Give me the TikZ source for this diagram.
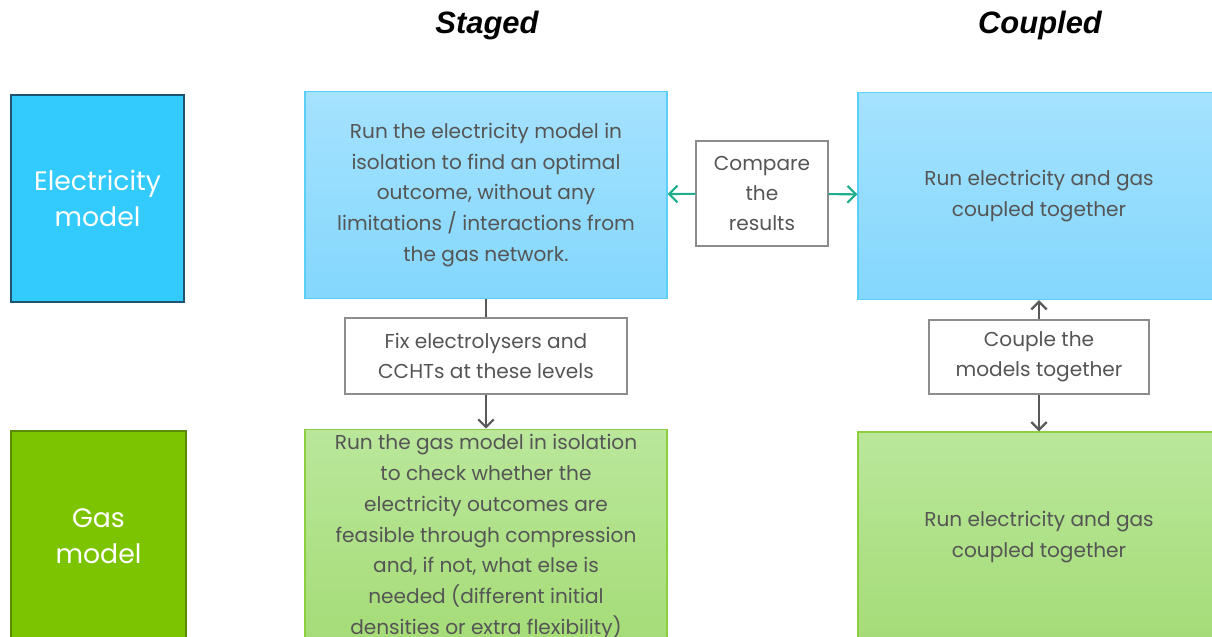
\documentclass[tikz,border=0pt]{standalone}
\usepackage{fontspec}
\setmainfont{Poppins}
\newfontfamily\headfont{Liberation Sans}
\usetikzlibrary{arrows.meta}

\definecolor{elecdark}{HTML}{33CAFD}
\definecolor{elecline}{HTML}{1F5370}
\definecolor{gasdark}{HTML}{7DC400}
\definecolor{gasline}{HTML}{5C8A0A}
\definecolor{bluetop}{HTML}{A5E2FE}
\definecolor{bluebot}{HTML}{84D7FD}
\definecolor{blueline}{HTML}{5AD0F8}
\definecolor{greentop}{HTML}{BAE79B}
\definecolor{greenbot}{HTML}{A5DC77}
\definecolor{greenline}{HTML}{8CCF3F}
\definecolor{textgrey}{HTML}{555555}
\definecolor{teal}{HTML}{1FAE8C}

\begin{document}
\begin{tikzpicture}[x=0.025cm,y=-0.025cm,
  model/.style = {draw, line width=0.8pt, text=white, align=center, minimum width=4.325cm, font=\fontsize{19}{26}\selectfont},
  step1/.style = {line width=0.8pt, text=textgrey, align=center, minimum width=9.05cm, font=\fontsize{14.3}{22}\selectfont},
  blue/.style = {step1, draw=blueline, top color=bluetop, bottom color=bluebot, minimum height=5.175cm},
  green/.style = {step1, draw=greenline, top color=greentop, bottom color=greenbot, minimum height=5.25cm},
  note/.style = {draw=gray!90, fill=white, line width=0.8pt, text=textgrey, align=center, font=\fontsize{14.3}{21.5}\selectfont},
  head/.style = {font=\headfont\bfseries\itshape\fontsize{22}{26}\selectfont},
  conn/.style = {draw=black!65, line width=1.6pt},
  tip/.style = {-{Straight Barb[length=5.5pt,width=11pt]}},
  tealtip/.style = {-{Straight Barb[length=6pt,width=12pt]}}]
\clip (0,0) rectangle (1212,637);

\node[head] (0) at (487,26) {Staged};
\node[head] (00) at (1040,26) {Coupled};

\node[model, fill=elecdark, draw=elecline, minimum height=5.175cm] (1) at (97.5,198.5) {Electricity\\model};
\node[model, fill=gasdark, draw=gasline, minimum width=4.375cm, minimum height=5.25cm] (7) at (98.5,536) {Gas\\model};

\node[blue] (2) at (486,195) {Run the electricity model in\\isolation to find an optimal\\outcome, without any\\limitations / interactions from\\the gas network.};
\node[blue] (3) at (1039,196) {Run electricity and gas\\coupled together};
\node[note, minimum width=3.3cm, minimum height=2.625cm] (4) at (762,193.5) {Compare\\the\\results};

\node[note, minimum width=7.05cm, minimum height=1.9cm] (5) at (486,356) {Fix electrolysers and\\CCHTs at these levels};
\node[note, minimum width=5.5cm, minimum height=1.85cm] (6) at (1039,357) {Couple the\\models together};

\node[green] (8) at (486,537) {Run the gas model in isolation\\to check whether the\\electricity outcomes are\\feasible through compression\\and, if not, what else is\\needed (different initial\\densities or extra flexibility)};
\node[green] (9) at (1039,537) {Run electricity and gas\\coupled together};

\draw[conn, draw=teal, line width=1.5pt, tealtip] (4) -- (2);
\draw[conn, draw=teal, line width=1.5pt, tealtip] (4) -- (3);
\draw[conn] (2) -- (5);
\draw[conn, tip] (5) -- (8);
\draw[conn, tip] (6) -- (3);
\draw[conn, tip] (6) -- (9);
\end{tikzpicture}
\end{document}
